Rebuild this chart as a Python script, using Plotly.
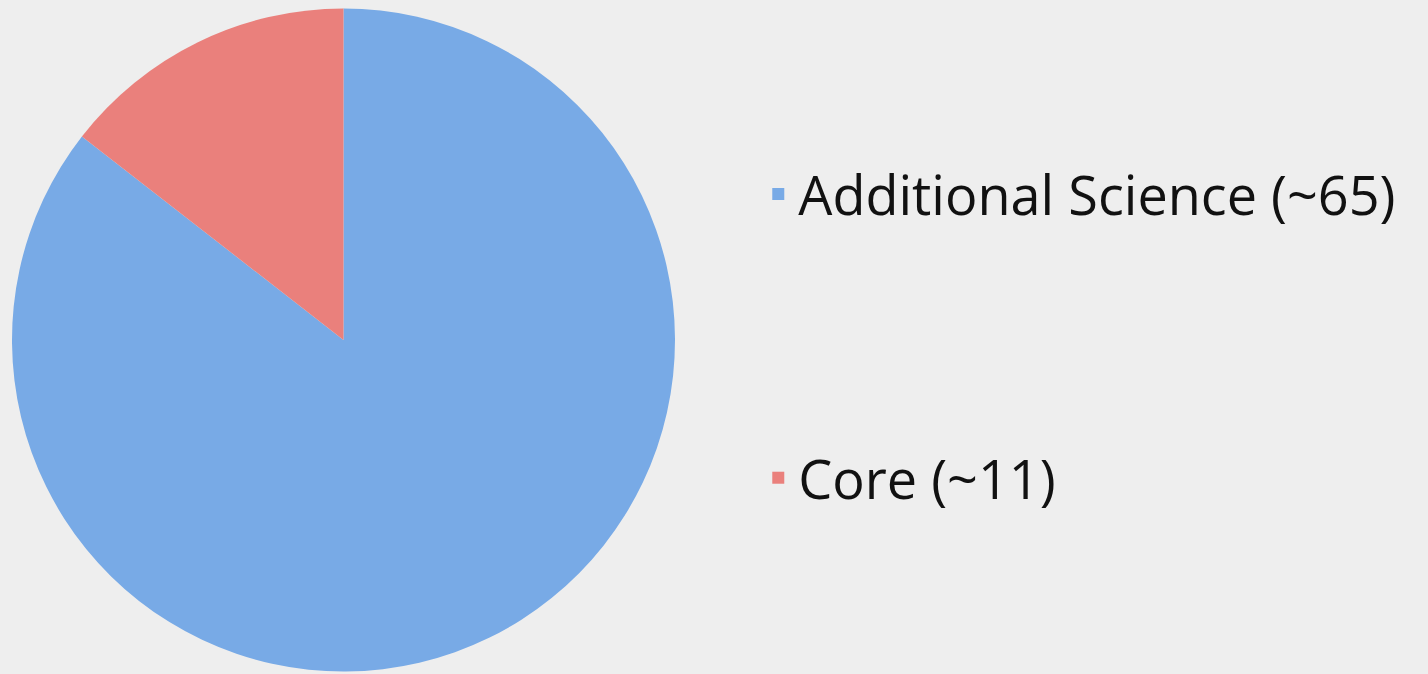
import plotly.graph_objects as go

labels = ["Additional Science (~65)", "Core (~11)"]
values = [65, 11]
colors = ["#78aae6", "#ea807c"]

# extra blank lines stretch the legend spacing like the reference
legend_labels = [labels[0] + "<br> <br> <br> ", labels[1]]

fig = go.Figure(
    go.Pie(
        labels=legend_labels,
        values=values,
        sort=False,
        direction="clockwise",
        rotation=0,
        marker=dict(colors=colors, line=dict(width=0)),
        textinfo="none",
        hoverinfo="label+value",
        domain=dict(x=[12 / 1428, 675 / 1428], y=[2 / 674, 666 / 674]),
    )
)

fig.update_layout(
    width=1428,
    height=674,
    margin=dict(l=0, r=0, t=0, b=0),
    paper_bgcolor="#eeeeee",
    plot_bgcolor="#eeeeee",
    font=dict(family="Open Sans, Lato, sans-serif", color="#111111"),
    showlegend=True,
    legend=dict(
        x=0.531,
        y=0.774,
        xanchor="left",
        yanchor="top",
        font=dict(size=54, color="#111111"),
        valign="top",
        bgcolor="rgba(0,0,0,0)",
    ),
)

fig.write_html(
    "out.html",
    config={"displayModeBar": False},
    post_script="document.body.style.margin='0';document.body.style.background='#eeeeee';",
)
